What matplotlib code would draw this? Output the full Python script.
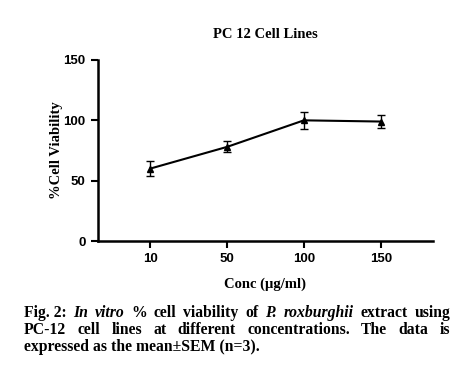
#!/usr/bin/env python3

import numpy as np
import matplotlib
matplotlib.use('Agg')
import matplotlib.pyplot as plt

plt.rcParams['font.family'] = 'Liberation Serif'

# Data
conc = ['10', '50', '100', '150']
viability = [60, 78, 100, 99]
sem = [6, 4.5, 7, 5.5]

caption = [
    [('Fig. 2:', 'normal'), ('In', 'italic'), ('vitro', 'italic'), ('%', 'normal'),
     ('cell', 'normal'), ('viability', 'normal'), ('of', 'normal'), ('P.', 'italic'),
     ('roxburghii', 'italic'), ('extract', 'normal'), ('using', 'normal')],
    [('PC-12', 'normal'), ('cell', 'normal'), ('lines', 'normal'), ('at', 'normal'),
     ('different', 'normal'), ('concentrations.', 'normal'), ('The', 'normal'),
     ('data', 'normal'), ('is', 'normal')],
    [('expressed as the mean\u00b1SEM (n=3).', 'normal')],
]

fig = plt.figure(figsize=(4.58, 3.70), dpi=100)
ax = fig.add_axes([98/458, 1 - 241/370, (433 - 98)/458, (241 - 60)/370])

xs = np.arange(len(conc))
ax.errorbar(xs, viability, yerr=sem, color='black', lw=1.5, marker='^', ms=5,
            capsize=3, elinewidth=1, capthick=1)

ax.set_xlim(-0.68, 3.68)
ax.set_ylim(0, 150)
ax.set_yticks([0, 50, 100, 150])
ax.set_xticks(xs)
ax.set_xticklabels(conc)
for s in ['top', 'right']:
    ax.spines[s].set_visible(False)
for s in ['left', 'bottom']:
    ax.spines[s].set_linewidth(1.8)
ax.tick_params(width=1.5, length=5, pad=4)
for lab in ax.get_xticklabels() + ax.get_yticklabels():
    lab.set_fontfamily('Liberation Sans')
    lab.set_fontweight('bold')
    lab.set_fontsize(9.5)

ax.set_title('PC 12 Cell Lines', fontsize=10.5, fontweight='bold', pad=16)
ax.set_ylabel('%Cell Viability', fontsize=10.5, fontweight='bold', labelpad=0)
ax.set_xlabel('Conc (\u00b5g/ml)', fontsize=10.5, fontweight='bold', labelpad=9)

# justified caption
fig.canvas.draw()
r = fig.canvas.get_renderer()
left, right = 24, 450
ys = [313, 330, 347]
for i, (line, y) in enumerate(zip(caption, ys)):
    texts = [fig.text(0, 1 - y/370, w, fontsize=11.3, fontweight='bold', fontstyle=st,
                      va='center', ha='left') for w, st in line]
    widths = [t.get_window_extent(r).width for t in texts]
    if i < 2:
        gap = (right - left - sum(widths)) / (len(texts) - 1)
    else:
        gap = 0
    x = left
    for t, w in zip(texts, widths):
        t.set_x(x / 458)
        x += w + gap

fig.savefig('out.png', dpi=100)
